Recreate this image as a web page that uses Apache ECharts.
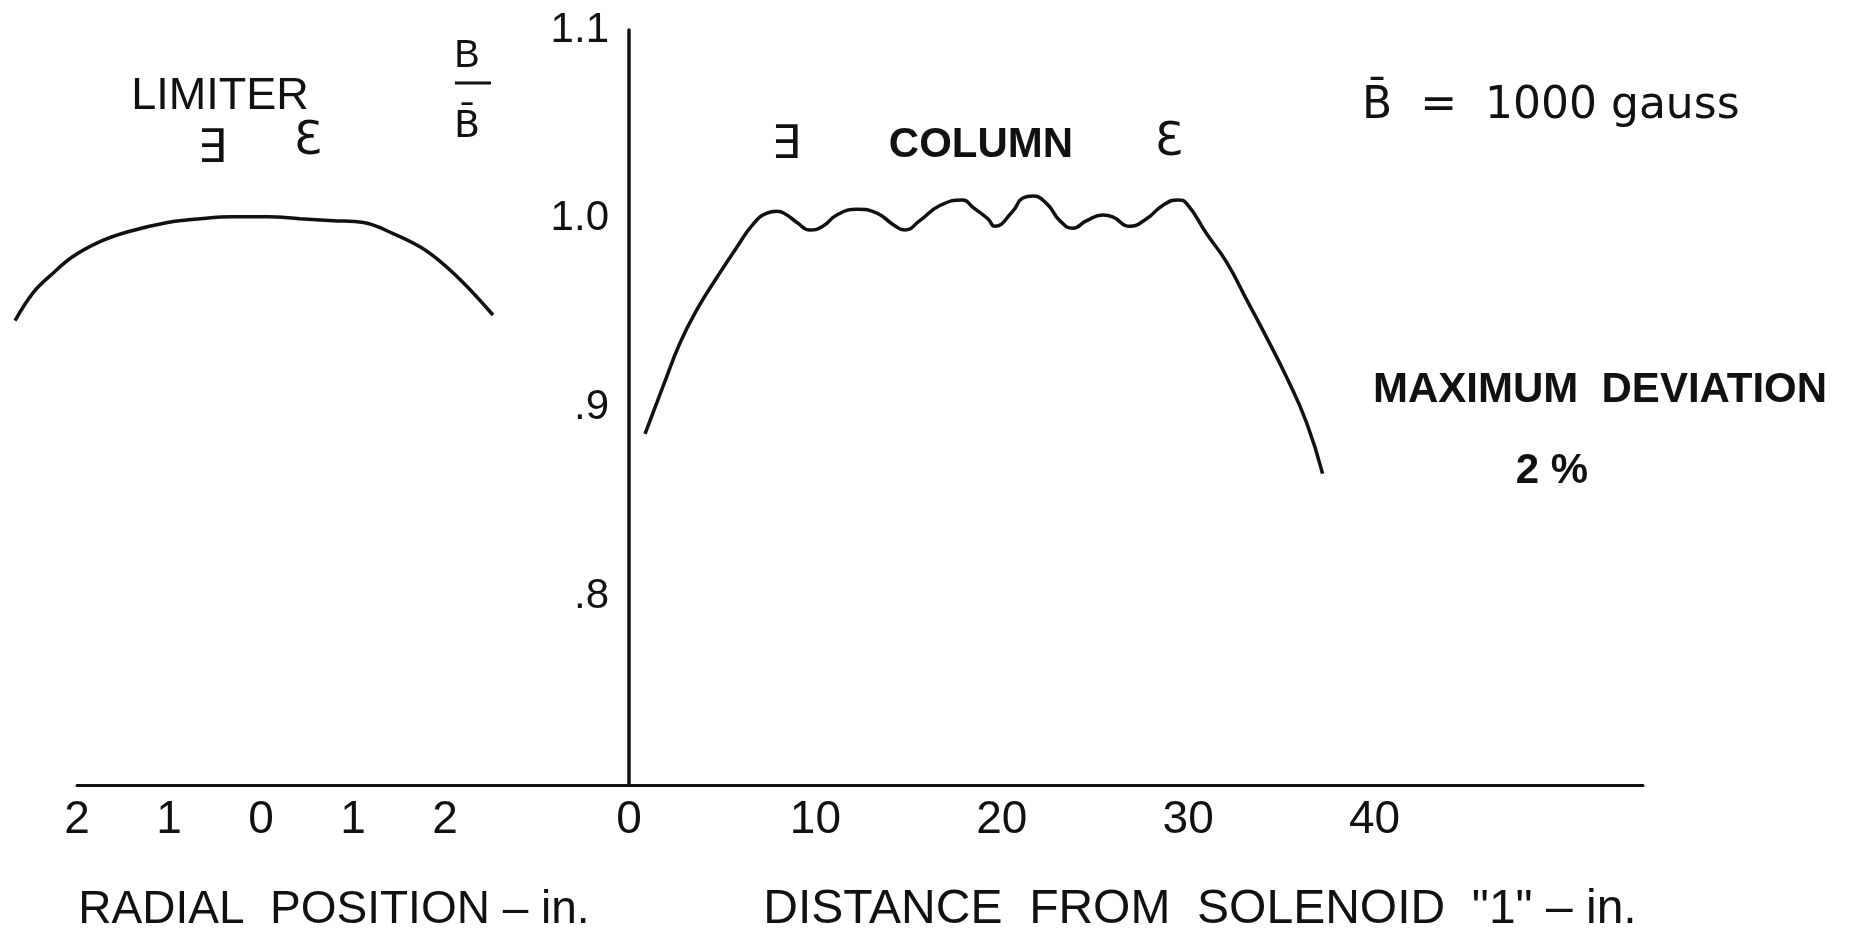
<!DOCTYPE html>
<html>
<head>
<meta charset="utf-8">
<script src="https://cdn.jsdelivr.net/npm/echarts@6/dist/echarts.min.js"></script>
<style>
html, body { margin: 0; padding: 0; background: #fff; }
#chart { width: 1865px; height: 931px; }
</style>
</head>
<body>
<div id="chart"></div>
<script>
// radial profile (left panel), x in inches from axis
const radialX = [-2.68, -2.48, -2.27, -2.05, -1.75, -1.46, -1.02, -0.66, -0.31, 0.07, 0.42, 0.78, 1.11, 1.44, 1.73, 1.98, 2.24, 2.52]
const radialB = [0.946, 0.961, 0.971, 0.980, 0.988, 0.993, 0.998, 1.000, 1.001, 1.001, 1.000, 0.999, 0.998, 0.992, 0.985, 0.976, 0.964, 0.949]

// axial profile (right panel), distance from solenoid "1"
const columnX = [0.86, 1.82, 2.73, 3.65, 4.72, 5.79, 6.65, 7.40, 7.94, 8.47,
  9.01, 9.71, 10.40, 11.15, 12.23, 13.30, 14.16, 14.80, 15.60, 16.68,
  17.91, 18.45, 19.25, 19.62, 20.59, 21.13, 21.66, 22.41, 23.11, 23.81,
  24.56, 25.42, 25.95, 26.86, 27.77, 28.63, 29.44, 29.92, 30.99, 32.06,
  33.14, 34.21, 35.28, 36.35, 37.21]
const columnB = [0.886, 0.911, 0.934, 0.952, 0.969, 0.985, 0.997, 1.003, 1.004, 1.002,
  0.998, 0.994, 0.996, 1.002, 1.005, 1.003, 0.997, 0.994, 0.999, 1.007,
  1.010, 1.006, 1.000, 0.996, 1.004, 1.011, 1.012, 1.008, 0.999, 0.995,
  0.999, 1.002, 1.001, 0.996, 1.000, 1.007, 1.010, 1.008, 0.992, 0.977,
  0.957, 0.937, 0.916, 0.892, 0.865]

const yTicks = ['', '.8', '.9', '1.0', '1.1']   // 0.7 .. 1.1
const radialTicks = ['2', '1', '0', '1', '2']    // -2 .. 2
const distTicks = ['0', '10', '20', '30', '40']  // 0 .. 40

const FONT = '"Liberation Sans", Arial, sans-serif'
const ink = '#111'

const chart = echarts.init(document.getElementById('chart'))

const yBase = {
  type: 'value',
  min: 0.7,
  max: 1.1,
  interval: 0.1,
  splitLine: { show: false },
  axisTick: { show: false }
}
const tickFont = { color: ink, fontFamily: FONT, fontSize: 46 }

function txt (x, y, text, size, opts) {
  return {
    type: 'text',
    x: x,
    y: y,
    style: Object.assign({
      text: text,
      fontSize: size,
      fontFamily: FONT,
      fill: ink,
      align: 'center',
      verticalAlign: 'middle'
    }, opts || {})
  }
}

chart.setOption({
  backgroundColor: '#fff',
  animation: false,
  grid: [
    // left panel data area (curve runs past the drawn axis)
    { left: 4, width: 625, top: 30, bottom: 146 },
    { left: 629, right: 222, top: 30, bottom: 146 },
    // left panel drawn axis
    { left: 77, width: 552, top: 30, bottom: 146 }
  ],
  xAxis: [
    { gridIndex: 0, type: 'value', min: -2.8, max: 4, show: false },
    {
      gridIndex: 1,
      type: 'value',
      min: 0,
      max: 54.4,
      interval: 10,
      splitLine: { show: false },
      axisTick: { show: false },
      axisLine: { lineStyle: { color: ink, width: 3 } },
      axisLabel: Object.assign({
        margin: 12,
        showMaxLabel: false,
        formatter: v => (v > 40 ? '' : distTicks[Math.round(v / 10)])
      }, tickFont)
    },
    {
      gridIndex: 2,
      type: 'value',
      min: -2,
      max: 4,
      interval: 1,
      splitLine: { show: false },
      axisTick: { show: false },
      axisLine: { lineStyle: { color: ink, width: 3 } },
      axisLabel: Object.assign({
        margin: 12,
        formatter: v => (v > 2 ? '' : radialTicks[Math.round(v) + 2])
      }, tickFont)
    }
  ],
  yAxis: [
    Object.assign({}, yBase, { gridIndex: 0, show: false }),
    Object.assign({}, yBase, {
      gridIndex: 1,
      axisLine: { show: true, lineStyle: { color: ink, width: 3.5 } },
      axisLabel: Object.assign({
        margin: 20,
        formatter: v => yTicks[Math.round((v - 0.7) * 10)]
      }, tickFont, { fontSize: 42 })
    }),
    Object.assign({}, yBase, { gridIndex: 2, show: false })
  ],
  series: [
    {
      type: 'line',
      xAxisIndex: 0,
      yAxisIndex: 0,
      data: radialX.map((x, i) => [x, radialB[i]]),
      smooth: 0.4,
      symbol: 'none',
      lineStyle: { color: ink, width: 3.5 }
    },
    {
      type: 'line',
      xAxisIndex: 1,
      yAxisIndex: 1,
      data: columnX.map((x, i) => [x, columnB[i]]),
      smooth: 0.5,
      clip: false,
      symbol: 'none',
      lineStyle: { color: ink, width: 3.5 }
    }
  ],
  graphic: [
    txt(220, 97, 'LIMITER', 45),
    txt(212, 150, '∃', 46, { fontFamily: 'DejaVu Sans' }),
    txt(308, 142, 'Ɛ', 46, { fontFamily: 'DejaVu Sans' }),
    txt(467, 57, 'B', 38),
    { type: 'line', shape: { x1: 455, y1: 83, x2: 491, y2: 83 }, style: { stroke: ink, lineWidth: 3 } },
    txt(467, 127, 'B̄', 38, { fontFamily: 'DejaVu Sans' }),
    txt(786, 146, '∃', 46, { fontFamily: 'DejaVu Sans' }),
    txt(981, 145, 'COLUMN', 42, { fontWeight: 'bold' }),
    txt(1169, 143, 'Ɛ', 46, { fontFamily: 'DejaVu Sans' }),
    txt(1362, 107, 'B̄  =  1000 gauss', 44, { fontFamily: 'DejaVu Sans', align: 'left' }),
    txt(1600, 390, 'MAXIMUM  DEVIATION', 42, { fontWeight: 'bold' }),
    txt(1552, 471, '2 %', 42, { fontWeight: 'bold' }),
    txt(334, 910, 'RADIAL  POSITION – in.', 46),
    txt(1200, 910, 'DISTANCE  FROM  SOLENOID  "1" – in.', 48)
  ]
})
</script>
</body>
</html>
